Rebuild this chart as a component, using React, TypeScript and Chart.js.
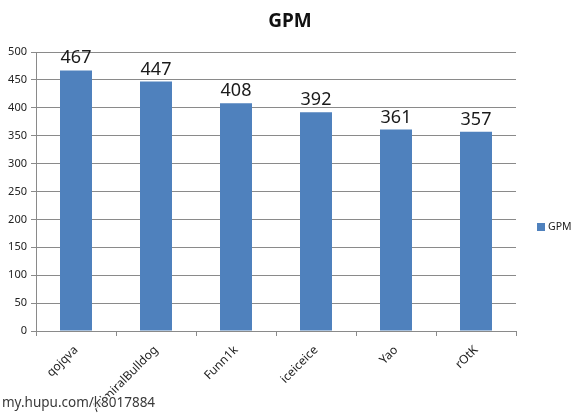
import React, { useEffect, useRef } from "react";
import { Chart, registerables } from "chart.js";

Chart.register(...registerables);

const players = ["qojqva", "AdmiralBulldog", "Funn1k", "iceiceice", "Yao", "rOtK"];
const gpm = [467, 447, 408, 392, 361, 357];
const yTicks = [0, 50, 100, 150, 200, 250, 300, 350, 400, 450, 500];
const seriesName = "GPM";
const watermark = "my.hupu.com/k8017884";

const BAR = "#4f81bd";
const FONT = "'Noto Sans', 'DejaVu Sans', sans-serif";

// Title, value labels above the bars, side legend and the corner watermark
const extras = {
  id: "extras",
  afterDatasetsDraw(chart: any) {
    const ctx = chart.ctx;
    const meta = chart.getDatasetMeta(0);
    ctx.save();

    // title centred on the whole canvas
    ctx.font = `bold 19px ${FONT}`;
    ctx.fillStyle = "#111";
    ctx.textAlign = "center";
    ctx.textBaseline = "middle";
    ctx.fillText(seriesName, chart.width / 2, 22);

    ctx.font = `18px ${FONT}`;
    ctx.fillStyle = "#1a1a1a";
    ctx.textBaseline = "alphabetic";
    meta.data.forEach((bar: any, i: number) => {
      ctx.fillText(String(gpm[i]), bar.x, bar.y - 7);
    });

    // legend
    ctx.fillStyle = BAR;
    ctx.fillRect(537, 223, 8, 8);
    ctx.font = `10.5px ${FONT}`;
    ctx.fillStyle = "#222";
    ctx.textAlign = "left";
    ctx.textBaseline = "middle";
    ctx.fillText(seriesName, 548, 227.5);

    // watermark
    ctx.font = `13.5px ${FONT}`;
    ctx.textBaseline = "alphabetic";
    ctx.lineWidth = 3;
    ctx.strokeStyle = "rgba(255,255,255,0.9)";
    ctx.strokeText(watermark, 2, 407);
    ctx.fillStyle = "#3a3a3a";
    ctx.fillText(watermark, 2, 407);
    ctx.restore();
  },
};

export default function App() {
  const ref = useRef<HTMLCanvasElement>(null);

  useEffect(() => {
    const chart = new Chart(ref.current!, {
      type: "bar",
      data: {
        labels: players,
        datasets: [
          {
            label: seriesName,
            data: gpm,
            backgroundColor: BAR,
            barPercentage: 0.4,
            categoryPercentage: 1,
          },
        ],
      },
      options: {
        animation: false,
        responsive: false,
        layout: { padding: { top: 52, right: 64, bottom: 0, left: 0 } },
        plugins: {
          legend: { display: false },
          tooltip: { enabled: false },
          title: { display: false },
        },
        scales: {
          x: {
            afterFit(scale: any) {
              scale.height = 82;
            },
            grid: {
              drawOnChartArea: false,
              drawTicks: true,
              tickLength: 5,
              color: "#8a8a8a",
            },
            border: { color: "#8a8a8a" },
            ticks: {
              minRotation: 45,
              maxRotation: 45,
              autoSkip: false,
              color: "#222",
              font: { family: FONT, size: 12 },
              padding: 7,
            },
          },
          y: {
            min: 0,
            max: 500,
            afterFit(scale: any) {
              scale.width = 36;
            },
            afterBuildTicks(scale: any) {
              scale.ticks = yTicks.map((v) => ({ value: v }));
            },
            grid: {
              color: "#8a8a8a",
              drawTicks: true,
              tickLength: 5,
            },
            border: { color: "#8a8a8a" },
            ticks: {
              color: "#222",
              font: { family: FONT, size: 11 },
              padding: 4,
            },
          },
        },
      },
      plugins: [extras],
    });
    return () => chart.destroy();
  }, []);

  return (
    <div style={{ position: "fixed", left: 0, top: 0, width: 580, height: 413, background: "#fff" }}>
      <canvas ref={ref} width={580} height={413} />
    </div>
  );
}
